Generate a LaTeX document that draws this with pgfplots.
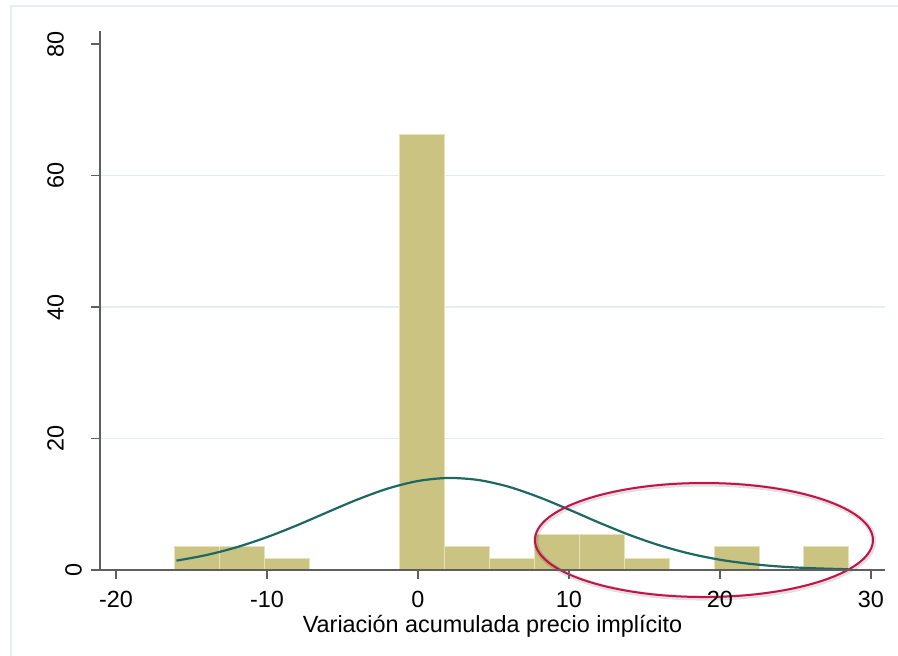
\documentclass[border=0pt]{standalone}
\usepackage{pgfplots}
\pgfplotsset{compat=1.18}
\usepackage{fontspec}
\setmainfont{Liberation Sans}
\definecolor{barfill}{RGB}{202,195,130}
\definecolor{baredge}{RGB}{230,226,186}
\definecolor{curve}{RGB}{30,104,100}
\definecolor{ell}{RGB}{196,18,74}
\definecolor{gridc}{RGB}{228,238,240}
\definecolor{framec}{RGB}{230,238,241}
\definecolor{axc}{RGB}{95,95,95}
\begin{document}
\fontsize{11.7}{14}\selectfont
\begin{tikzpicture}
\useasboundingbox (-50pt,-43pt) rectangle (399pt,285pt);
\draw[framec, line width=1pt] (-44.5pt,-60pt) -- (-44.5pt,282pt) -- (420pt,282pt);
\begin{axis}[
  at={(0pt,0pt)}, anchor=south west,
  scale only axis, width=392.5pt, height=269.5pt,
  xmin=-21.06, xmax=30.93, ymin=0, ymax=82,
  axis x line=bottom, axis y line=left,
  axis line style={axc, line width=0.75pt, -},
  every tick/.style={axc, line width=0.75pt},
  tick align=outside, major tick length=4.5pt,
  xtick={-20,-10,0,10,20,30},
  ytick={20,40,60,80},
  extra y ticks={0},
  extra y tick style={yticklabel style={yshift=-9pt}},
  /pgf/number format/assume math mode=true,
  tick label style={font=\fontsize{11.7}{14}\selectfont, black},
  yticklabel style={rotate=90, anchor=south, yshift=9.5pt},
  xticklabel style={yshift=-2pt},
  xlabel={Variación acumulada precio implícito},
  xlabel style={font=\fontsize{11.7}{14}\selectfont, yshift=4pt},
  clip=false,
  axis on top,
]
\draw[gridc, line width=0.75pt] (axis cs:-21.06,20) -- (axis cs:30.93,20);
\draw[gridc, line width=0.75pt] (axis cs:-21.06,40) -- (axis cs:30.93,40);
\draw[gridc, line width=0.75pt] (axis cs:-21.06,60) -- (axis cs:30.93,60);
\addplot[ybar interval, fill=barfill, draw=baredge, line width=0.5pt] coordinates {
(-16.1,3.65) (-13.124,3.65) (-10.148,1.82) (-7.172,0) (-4.196,0)
(-1.22,66.3) (1.756,3.65) (4.732,1.82) (7.708,5.47) (10.684,5.47)
(13.66,1.82) (16.636,0) (19.612,3.65) (22.588,0) (25.564,3.65) (28.54,3.65)
};
\addplot[curve, line width=1.1pt, smooth] coordinates {
(-16,1.42) (-14,2.28) (-12,3.47) (-10,5.00) (-8,6.81) (-6,8.79) (-4,10.73)
(-2,12.39) (0,13.54) (2,14.0) (4,13.69) (6,12.67) (8,11.09) (10,9.19)
(12,7.20) (14,5.34) (16,3.75) (18,2.49) (20,1.56) (22,0.93) (24,0.52)
(26,0.28) (28,0.14) (28.5,0.12)
};
\draw[black, opacity=0.12, line width=2.5pt] (axis cs:18.99,4.40) ellipse [x radius=84.5pt, y radius=28.5pt];
\draw[ell, line width=1pt] (axis cs:18.94,4.56) ellipse [x radius=84.5pt, y radius=28.5pt];
\end{axis}
\end{tikzpicture}
\end{document}
